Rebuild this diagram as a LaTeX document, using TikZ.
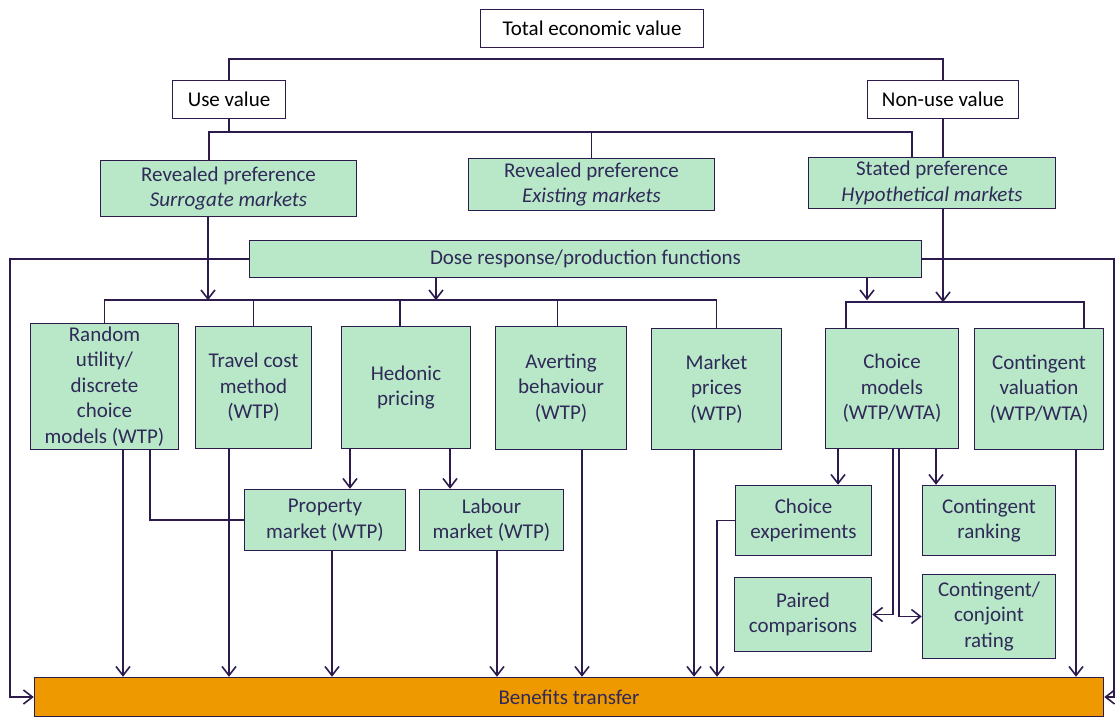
\documentclass[tikz,border=0pt]{standalone}
\usepackage{fontspec}
\setmainfont{Carlito}
\usetikzlibrary{arrows.meta}
\definecolor{edge}{HTML}{2D1B4E}
\definecolor{ink}{HTML}{2F2A58}
\definecolor{mint}{HTML}{B9E8C9}
\definecolor{amber}{HTML}{EE9900}
\tikzset{
  wbox/.style={draw=edge, line width=1.5pt, fill=white, text=black, align=center, inner sep=0pt},
  gbox/.style={draw=edge, line width=1.5pt, fill=mint, text=ink, align=center, inner sep=0pt},
  arr/.style={-{Straight Barb[length=9pt,width=14pt]}},
}
\begin{document}
\begin{tikzpicture}[x=1pt, y=-1pt, line width=1.6pt, draw=edge, font=\fontsize{21}{25.5}\selectfont]
\useasboundingbox (0,0) rectangle (1115,718);
\node[wbox, minimum width=223, minimum height=38] (tev) at (592,28.5){Total economic value};
\node[wbox, minimum width=113, minimum height=38] (use) at (229,99.5){Use value};
\node[wbox, minimum width=151, minimum height=38] (nonuse) at (943,99.5){Non-use value};
\node[gbox, minimum width=256, minimum height=56] (surr) at (228.5,188.5){Revealed preference\\\textit{Surrogate markets}};
\node[gbox, minimum width=246, minimum height=52] (exist) at (591.5,184.5){Revealed preference\\\textit{Existing markets}};
\node[gbox, minimum width=247, minimum height=51] (stated) at (932,183){Stated preference\\\textit{Hypothetical markets}};
\node[gbox, minimum width=672, minimum height=37] (dose) at (585.5,259){Dose response/production functions};
\node[gbox, minimum width=148, minimum height=126] (rand) at (104.5,386.5){Random\\utility/\\discrete\\choice\\models (WTP)};
\node[gbox, minimum width=116, minimum height=122] (travel) at (253.5,387.5){Travel cost\\method\\(WTP)};
\node[gbox, minimum width=129, minimum height=122] (hed) at (406,387.5){Hedonic\\pricing};
\node[gbox, minimum width=131, minimum height=123] (avert) at (561,388){Averting\\behaviour\\(WTP)};
\node[gbox, minimum width=130, minimum height=121] (market) at (716.5,389){Market\\prices\\(WTP)};
\node[gbox, minimum width=133, minimum height=120] (choice) at (892,388.5){Choice\\models\\(WTP/WTA)};
\node[gbox, minimum width=129, minimum height=121] (cval) at (1039,389){Contingent\\valuation\\(WTP/WTA)};
\node[gbox, minimum width=161, minimum height=61] (prop) at (325,520){Property\\market (WTP)};
\node[gbox, minimum width=144, minimum height=61] (labour) at (491.5,520){Labour\\market (WTP)};
\node[gbox, minimum width=136, minimum height=70] (cexp) at (803.5,520.5){Choice\\experiments};
\node[gbox, minimum width=133, minimum height=70] (crank) at (989,520.5){Contingent\\ranking};
\node[gbox, minimum width=137, minimum height=74] (paired) at (803,614.5){Paired\\comparisons};
\node[gbox, minimum width=133, minimum height=84] (conj) at (989,616.5){Contingent/\\conjoint\\rating};
\node[draw=edge, line width=1.5pt, fill=amber, text=ink, inner sep=0pt, minimum width=1069, minimum height=39] (ben) at (569,697){Benefits transfer};
\coordinate (lft) at (10,259);
\coordinate (rgt) at (1114,259);
\draw (use.north) -- ++(0,-21) -| (nonuse.north);
\draw (use.south) -- ++(0,13);
\draw ([xshift=-19.5]surr.north) -- ++(0,-28) -| ([xshift=-20]stated.north);
\draw (exist.north) -- ++(0,-26);
\draw (nonuse.south) -- (nonuse.south |- stated.north);
\draw[arr] (dose.west) -- (lft) |- (ben.west);
\draw[arr] (dose.east) -- (rgt) |- (ben.east);
\draw[arr] ([xshift=-20.5]surr.south) -- ++(0,83);
\draw[arr] ([xshift=-149.5]dose.south) -- ++(0,22);
\draw[arr] ([xshift=281.5]dose.south) -- ++(0,22);
\draw[arr] ([xshift=11]stated.south) -- ++(0,93);
\draw (rand.north) -- ++(0,-23) -| (market.north);
\draw (travel.north) -- ++(0,-26);
\draw ([xshift=-6]hed.north) -- ++(0,-26);
\draw ([xshift=-3.5]avert.north) -- ++(0,-26);
\draw ([xshift=-46]choice.north) -- ++(0,-26) -| ([xshift=45]cval.north);
\draw[arr] ([xshift=-56]hed.south) -- ([xshift=-56]hed.south |- prop.north);
\draw[arr] ([xshift=44]hed.south) -- ([xshift=44]hed.south |- labour.north);
\draw ([xshift=45.5]rand.south) |- (prop.west);
\draw[arr] ([xshift=-54]choice.south) -- ([xshift=-54]choice.south |- cexp.north);
\draw[arr] ([xshift=44]choice.south) -- ([xshift=44]choice.south |- crank.north);
\draw[arr] ([xshift=1]choice.south) |- (paired.east);
\draw[arr] ([xshift=7]choice.south) |- (conj.west);
\draw[arr] ([xshift=18.5]rand.south) -- ([xshift=18.5]rand.south |- ben.north);
\draw[arr] ([xshift=-24.5]travel.south) -- ([xshift=-24.5]travel.south |- ben.north);
\draw[arr] ([xshift=7]prop.south) -- ([xshift=7]prop.south |- ben.north);
\draw[arr] ([xshift=5.5]labour.south) -- ([xshift=5.5]labour.south |- ben.north);
\draw[arr] ([xshift=21]avert.south) -- ([xshift=21]avert.south |- ben.north);
\draw[arr] ([xshift=-22.5]market.south) -- ([xshift=-22.5]market.south |- ben.north);
\draw[arr] (cexp.west) -| ([xshift=148]ben.north);
\draw[arr] ([xshift=37]cval.south) -- ([xshift=37]cval.south |- ben.north);
\end{tikzpicture}
\end{document}
